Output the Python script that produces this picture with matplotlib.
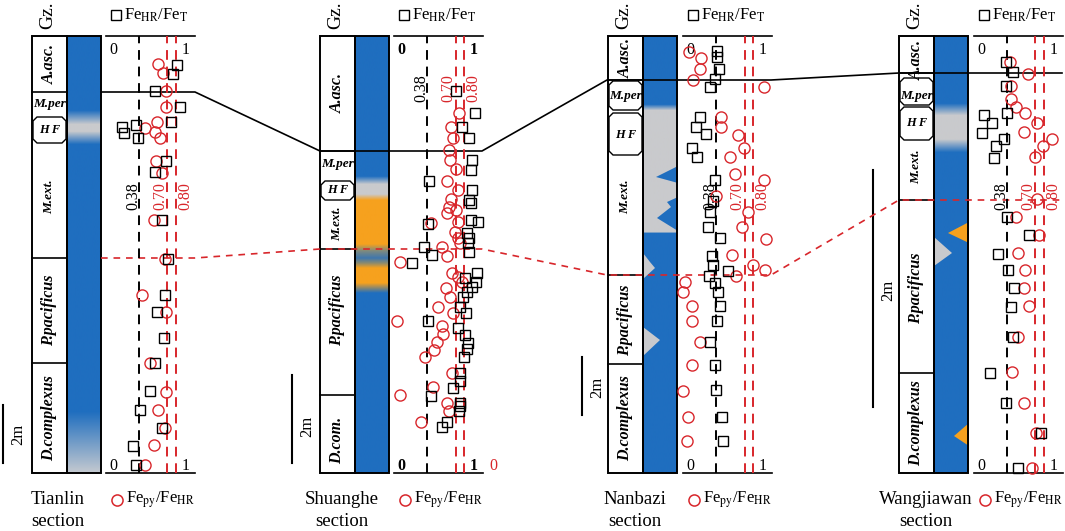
import numpy as np
import matplotlib.pyplot as plt
from matplotlib.patches import Rectangle, Polygon
from matplotlib.colors import to_rgb

plt.rcParams['font.family'] = ['Liberation Serif', 'DejaVu Serif']
plt.rcParams['mathtext.fontset'] = 'stix'

# ratios (x) and height above section base in m (h)
# squares: FeHR/FeT, circles: Fepy/FeHR
tl_hr_x = [0.81, 0.77, 0.56, 0.84, 0.74, 0.19, 0.21, 0.34, 0.37, 0.69, 0.56, 0.64, 0.71, 0.68, 0.58, 0.66,
           0.56, 0.51, 0.39, 0.64, 0.31, 0.34]
tl_hr_h = [14.07, 13.76, 13.17, 12.61, 12.11, 11.92, 11.71, 12.00, 11.54, 10.77, 10.37, 8.72, 7.38, 6.14,
           5.56, 4.64, 3.80, 2.83, 2.17, 1.54, 0.93, 0.28]
tl_py_x = [0.60, 0.65, 0.69, 0.69, 0.58, 0.45, 0.56, 0.62, 0.57, 0.64, 0.55, 0.67, 0.41, 0.69, 0.50, 0.69,
           0.60, 0.68, 0.55, 0.45]
tl_py_h = [14.09, 13.78, 13.17, 12.63, 12.11, 11.88, 11.77, 11.56, 10.76, 10.33, 8.72, 7.37, 6.14, 5.56,
           3.80, 2.80, 2.17, 1.54, 0.97, 0.28]

sh_hr_x = [0.70, 0.92, 0.77, 0.85, 0.89, 0.88, 0.40, 0.89, 0.85, 0.87, 0.39, 0.87, 0.96, 0.83, 0.85, 0.84,
           0.85, 0.34, 0.43, 0.20, 0.94, 0.81, 0.93, 0.89, 0.83, 0.78, 0.75, 0.82, 0.39, 0.73, 0.81, 0.84,
           0.83, 0.79, 0.75, 0.75, 0.67, 0.42, 0.75, 0.75, 0.74, 0.60, 0.55]
sh_hr_h = [8.68, 8.18, 7.87, 7.61, 7.11, 6.89, 6.64, 6.43, 6.20, 6.13, 5.67, 5.75, 5.71, 5.45, 5.33, 5.22,
           5.03, 5.13, 4.95, 4.78, 4.54, 4.43, 4.33, 4.22, 4.12, 4.01, 3.78, 3.64, 3.46, 3.29, 3.14, 2.96,
           2.81, 2.63, 2.27, 2.08, 1.94, 1.76, 1.60, 1.52, 1.42, 1.15, 1.04]
sh_py_x = [0.74, 0.65, 0.67, 0.63, 0.64, 0.70, 0.60, 0.73, 0.65, 0.63, 0.60, 0.70, 0.73, 0.42, 0.69, 0.73,
           0.75, 0.55, 0.60, 0.07, 0.66, 0.73, 0.77, 0.59, 0.64, 0.50, 0.67, 0.03, 0.55, 0.56, 0.49, 0.45,
           0.35, 0.66, 0.44, 0.07, 0.60, 0.62, 0.31]
sh_py_h = [8.18, 7.87, 7.61, 7.34, 7.11, 6.90, 6.64, 6.43, 6.22, 6.05, 5.92, 5.98, 5.71, 5.69, 5.48, 5.33,
           5.22, 5.13, 4.93, 4.80, 4.55, 4.46, 4.35, 4.20, 3.99, 3.78, 3.64, 3.46, 3.33, 3.16, 2.98, 2.80,
           2.63, 2.27, 1.96, 1.77, 1.60, 1.42, 1.15]

nb_hr_x = [0.39, 0.39, 0.41, 0.36, 0.31, 0.19, 0.15, 0.26, 0.10, 0.16, 0.36, 0.34, 0.31, 0.28, 0.42, 0.33,
           0.34, 0.51, 0.30, 0.36, 0.40, 0.42, 0.39, 0.31, 0.36, 0.38, 0.44, 0.46]
nb_hr_h = [14.56, 14.36, 13.92, 13.58, 13.32, 12.27, 11.94, 11.68, 11.20, 10.89, 10.10, 9.39, 9.01, 8.47,
           8.09, 7.48, 7.17, 6.98, 6.79, 6.56, 6.25, 5.76, 5.25, 4.53, 3.72, 2.86, 1.94, 1.11]
nb_py_x = [0.07, 0.21, 0.19, 0.11, 0.92, 0.43, 0.43, 0.62, 0.69, 0.53, 0.59, 0.92, 0.375, 0.74, 0.67, 0.94,
           0.56, 0.80, 0.93, 0.60, 0.02, 0.00, 0.10, 0.10, 0.19, 0.10, 0.00, 0.06, 0.04]
nb_py_h = [14.53, 14.30, 13.92, 13.55, 13.30, 12.27, 11.94, 11.66, 11.20, 10.89, 10.31, 10.10, 9.55, 9.01,
           8.49, 8.06, 7.52, 7.17, 7.00, 6.79, 6.60, 6.25, 5.76, 5.25, 4.53, 3.72, 2.84, 1.92, 1.11]

wj_hr_x = [0.37, 0.45, 0.37, 0.38, 0.12, 0.21, 0.10, 0.35, 0.26, 0.23, 0.38, 0.63, 0.28, 0.39, 0.46, 0.43,
           0.45, 0.19, 0.37, 0.77, 0.50]
wj_hr_h = [3.47, 3.38, 3.27, 3.04, 3.02, 2.95, 2.87, 2.82, 2.76, 2.66, 2.16, 2.01, 1.85, 1.71, 1.56, 1.40,
           1.15, 0.84, 0.59, 0.34, 0.04]
wj_py_x = [0.41, 0.62, 0.42, 0.43, 0.48, 0.58, 0.72, 0.57, 0.89, 0.79, 0.70, 0.72, 0.48, 0.74, 0.50, 0.58,
           0.57, 0.63, 0.51, 0.44, 0.57, 0.71, 0.66]
wj_py_h = [3.47, 3.37, 3.27, 3.16, 3.09, 3.04, 2.95, 2.88, 2.82, 2.76, 2.67, 2.31, 2.16, 2.01, 1.86, 1.71,
           1.56, 1.41, 1.15, 0.85, 0.59, 0.34, 0.04]

thresholds = [0.38, 0.70, 0.80]

BLUE = '#1f6ebf'
GRAY = '#c9cacd'
ORANGE = '#f6a11e'
RED = '#d8262b'

W, H = 1065, 531
TOP, BOT = 36, 473

fig = plt.figure(figsize=(W / 100, H / 100), dpi=100)
ax = fig.add_axes([0, 0, 1, 1])


def octagon(xl, xr, yt, yb, c=4):
    pts = [(xl, yt + c), (xl + c, yt), (xr - c, yt), (xr, yt + c),
           (xr, yb - c), (xr - c, yb), (xl + c, yb), (xl, yb - c)]
    ax.add_patch(Polygon(pts, closed=True, fc='white', ec='k', lw=1.0, zorder=4))


def section(name, nx, gx, x0, ppm, bounds, zones, hexes, stops, tris,
            hr_x, hr_h, py_x, py_h, thr_y, bar, bold01=False):
    lx0, lx1 = gx + 35, gx + 69
    # lithology column
    ys = np.arange(TOP, BOT + 1)
    pos = [s[0] for s in stops]
    cols = np.array([to_rgb(s[1]) for s in stops])
    img = np.stack([np.interp(ys, pos, cols[:, k]) for k in range(3)], axis=1)
    img = np.repeat(img[:, None, :], 2, axis=1)
    ax.imshow(img, extent=[lx0, lx1, BOT, TOP], aspect='auto', interpolation='bilinear', zorder=1)
    for pts, c in tris:
        ax.add_patch(Polygon(pts, closed=True, fc=c, ec='none', zorder=2))
    ax.add_patch(Rectangle((lx0, TOP), lx1 - lx0, BOT - TOP, fill=False, ec='k', lw=1.4, zorder=5))
    # zone column
    ax.add_patch(Rectangle((gx, TOP), 35, BOT - TOP, fc='white', ec='k', lw=1.4, zorder=3))
    for b in bounds:
        ax.plot([gx, gx + 35], [b, b], color='k', lw=1.2, zorder=4)
    for yt, yb in hexes:
        octagon(gx + 1, gx + 34, yt, yb)
    for txt, y, rot, fs in zones:
        ax.text(gx + 17.5, y, txt, rotation=rot, fontsize=fs, fontweight='bold', fontstyle='italic',
                ha='center', va='center', zorder=6)
    ax.text(gx + 16, 15, 'Gz.', rotation=90, fontsize=14, ha='center', va='center')
    # data panel frame and labels
    ax.plot([x0, x0 + 89], [TOP, TOP], color='k', lw=1.2)
    ax.plot([x0, x0 + 89], [BOT, BOT], color='k', lw=1.2)
    fw = 'bold' if bold01 else 'normal'
    for yy in (50, 466):
        ax.text(x0 + 7.5, yy, '0', fontsize=11.5, ha='center', va='center', fontweight=fw)
        ax.text(x0 + 80, yy, '1', fontsize=11.5, ha='center', va='center', fontweight=fw)
    ax.text(x0 + 88 * 0.38 - 6, thr_y, '0.38', rotation=90, fontsize=11.5, ha='center', va='center')
    ax.text(x0 + 88 * 0.70 - 7, thr_y, '0.70', rotation=90, fontsize=11.5, ha='center', va='center',
            color=RED)
    ax.text(x0 + 88 * 0.80 + 9, thr_y, '0.80', rotation=90, fontsize=11.5, ha='center', va='center',
            color=RED)
    # legends
    ax.plot(x0 + 10, 15, 's', ms=7.5, mfc='none', mec='k', mew=1.0)
    ax.text(x0 + 18, 15, r'Fe$_{\rm HR}$/Fe$_{\rm T}$', fontsize=12, ha='left', va='center')
    ax.plot(x0 + 11, 500, 'o', ms=8, mfc='none', mec=RED, mew=1.1)
    ax.text(x0 + 20, 500, r'Fe$_{\rm py}$/Fe$_{\rm HR}$', fontsize=12, ha='left', va='center')
    ax.text(nx, 500, name, fontsize=13.5, ha='center', va='center')
    ax.text(nx, 522, 'section', fontsize=13.5, ha='center', va='center')
    # scale bar
    bx, btop, ly = bar
    ax.plot([bx, bx], [btop, btop + 2 * ppm], color='k', lw=1.5)
    ax.text(bx + 15, ly, '2m', rotation=90, fontsize=12, ha='center', va='center')
    # data
    dax = fig.add_axes([x0 / W, 1 - BOT / H, 88 / W, (BOT - TOP) / H])
    dax.set_xlim(0, 1)
    dax.set_ylim(0, (BOT - TOP) / ppm)
    dax.axis('off')
    for v, c in zip(thresholds, ['k', RED, RED]):
        dax.axvline(v, color=c, lw=1.4, ls=(0, (5, 3.5)))
    dax.plot(py_x, py_h, 'o', ms=8, mfc='none', mec=RED, mew=1.0, clip_on=False)
    dax.plot(hr_x, hr_h, 's', ms=7, mfc='none', mec='k', mew=1.0, clip_on=False)


section('Tianlin', 58, 32, 105.6, 29,
        [92, 258, 363],
        [('A.asc.', 64, 90, 11.5), ('M.per', 104, 0, 9.5), ('H F', 130, 0, 9),
         ('M.ext.', 197, 90, 9.5), ('P.pacificus', 310, 90, 11.5), ('D.complexus', 418, 90, 11.5)],
        [(117, 143)],
        [(36, BLUE), (110, BLUE), (124, GRAY), (131, GRAY), (144, BLUE), (412, BLUE), (473, '#c4c9d0')],
        [],
        tl_hr_x, tl_hr_h, tl_py_x, tl_py_h, 196, (3, 405, 434))

section('Shuanghe', 342, 320, 394, 44,
        [151, 249, 395],
        [('A.asc.', 93, 90, 11.5), ('M.per', 164, 0, 9.5), ('H F', 190, 0, 9),
         ('M.ext.', 224, 90, 9.5), ('P.pacificus', 310, 90, 11.5), ('D.com.', 440, 90, 11.5)],
        [(181, 200)],
        [(36, BLUE), (176, BLUE), (184, GRAY), (194, GRAY), (200, ORANGE), (244, ORANGE),
         (251, '#7d8a80'), (258, '#3f76ad'), (263, '#8a8a70'), (268, ORANGE), (283, ORANGE),
         (293, BLUE), (473, BLUE)],
        [],
        sh_hr_x, sh_hr_h, sh_py_x, sh_py_h, 88, (292, 375, 426), bold01=True)

section('Nanbazi', 635, 608, 683, 29,
        [80, 275, 364],
        [('A.asc.', 58, 90, 11.5), ('M.per', 96, 0, 9.5), ('H F', 135, 0, 9),
         ('M.ext.', 197, 90, 9.5), ('P.pacificus', 320, 90, 11.5), ('D.complexus', 418, 90, 11.5)],
        [(81, 110), (113, 155)],
        [(36, BLUE), (104, BLUE), (110, GRAY), (232, GRAY), (232.5, BLUE), (473, BLUE)],
        [([(678, 166), (656, 177), (678, 183)], BLUE),
         ([(678, 197), (667, 202), (671, 207), (657, 218), (678, 231)], BLUE),
         ([(643, 253), (650, 262), (655, 268), (643, 279)], GRAY),
         ([(643, 327), (660, 340), (643, 356)], GRAY)],
        nb_hr_x, nb_hr_h, nb_py_x, nb_py_h, 196, (582, 357, 387))

section('Wangjiawan', 926, 899, 973.6, 118.5,
        [73, 200, 373],
        [('A.asc.', 60, 90, 11.5), ('M.per', 96, 0, 9.5), ('H F', 123, 0, 9),
         ('M.ext.', 167, 90, 9.5), ('P.pacificus', 288, 90, 11.5), ('D.complexus', 423, 90, 11.5)],
        [(78, 105), (107, 140)],
        [(36, BLUE), (103, BLUE), (115, GRAY), (139, GRAY), (152, BLUE), (473, BLUE)],
        [([(969, 222), (948, 233), (969, 243)], ORANGE),
         ([(934, 237), (952, 253), (934, 266)], GRAY),
         ([(969, 423), (954, 436), (969, 446)], ORANGE)],
        wj_hr_x, wj_hr_h, wj_py_x, wj_py_h, 196, (873, 170, 290))

# correlation lines
ax.plot([101, 195, 320, 482, 607, 771, 899, 1062], [92, 92, 151, 151, 80, 80, 73, 73],
        color='k', lw=1.2, zorder=6)
ax.plot([101, 195, 320, 482, 607, 771, 899, 1062], [258, 258, 249, 249, 275, 275, 200, 200],
        color=RED, lw=1.2, ls=(0, (4, 3.5)), zorder=6)
ax.text(493, 466, '0', fontsize=11.5, color=RED, ha='center', va='center')

ax.set_xlim(0, W)
ax.set_ylim(H, 0)
ax.axis('off')
fig.savefig('out.png', dpi=100)
